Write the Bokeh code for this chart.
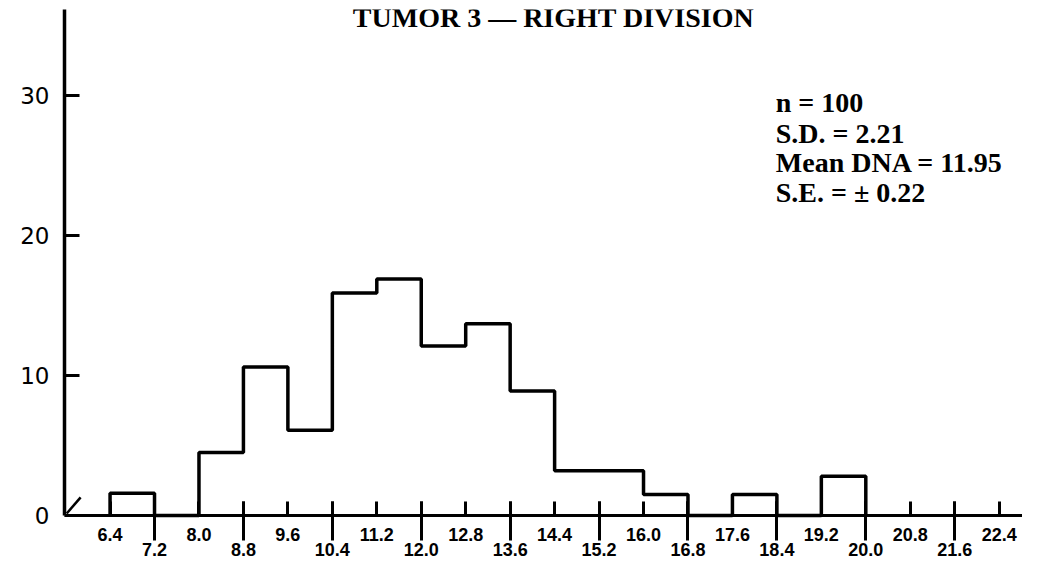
from bokeh.plotting import figure
from bokeh.models import FixedTicker, LinearAxis, Range1d, Label, ColumnDataSource
from bokeh.embed import file_html
from bokeh.resources import INLINE

# ---- data ----
title_text = "TUMOR 3 — RIGHT DIVISION"
bin_left = [6.4, 7.2, 8.0, 8.8, 9.6, 10.4, 11.2, 12.0, 12.8, 13.6,
            14.4, 15.2, 16.0, 16.8, 17.6, 18.4, 19.2]
counts = [1.6, 0, 4.5, 10.6, 6.1, 15.9, 16.9, 12.1, 13.7, 8.9,
          3.2, 3.2, 1.5, 0, 1.5, 0, 2.8]
bin_width = 0.8
upper_labels = ["6.4", "8.0", "9.6", "11.2", "12.8", "14.4", "16.0",
                "17.6", "19.2", "20.8", "22.4"]
lower_labels = ["7.2", "8.8", "10.4", "12.0", "13.6", "15.2", "16.8",
                "18.4", "20.0", "21.6"]
y_ticks = [0, 10, 20, 30]
stats_lines = ["n = 100", "S.D. = 2.21", "Mean DNA = 11.95", "S.E. = ± 0.22"]

# ---- figure ----
x_start, x_end = 5.58, 22.82
y_start, y_end = -3.21, 36.14

p = figure(width=1022, height=560,
           x_range=Range1d(x_start, x_end), y_range=Range1d(y_start, y_end),
           output_backend="svg", toolbar_location=None,
           x_axis_location=None, y_axis_location="left",
           min_border_left=64, min_border_right=0,
           min_border_top=9, min_border_bottom=0)
p.outline_line_color = None
p.grid.visible = False
p.background_fill_color = "white"
p.border_fill_color = "white"

# y axis (line only from 0 upward)
yax = p.yaxis[0]
yax.ticker = FixedTicker(ticks=y_ticks)
yax.bounds = (0, y_end)
yax.axis_line_width = 3.5
yax.axis_line_color = "black"
yax.major_tick_in = 15
yax.major_tick_out = 0
yax.major_tick_line_width = 3
yax.major_tick_line_color = "black"
yax.minor_tick_line_color = None
yax.major_label_text_font = "DejaVu Sans"
yax.major_label_text_font_size = "23px"
yax.major_label_text_color = "black"
yax.major_label_standoff = 15

# histogram outline (step)
xs = [bin_left[0]] + bin_left + [bin_left[-1] + bin_width]
ys = [0] + counts + [0]
src = ColumnDataSource(dict(x=xs, y=ys))
p.step("x", "y", source=src, mode="after", line_color="black", line_width=3.5)

# x axis at y = 0: lower row of labels with long ticks
all_vals = sorted([float(v) for v in upper_labels + lower_labels])
axA = LinearAxis(fixed_location=0,
                 ticker=FixedTicker(ticks=[float(v) for v in lower_labels],
                                    minor_ticks=all_vals))
axA.major_label_overrides = {float(v): v for v in lower_labels}
axA.axis_line_width = 3
axA.axis_line_color = "black"
axA.major_tick_in = 14
axA.major_tick_out = 25
axA.major_tick_line_width = 3
axA.minor_tick_in = 14
axA.minor_tick_out = 0
axA.minor_tick_line_width = 3
axA.major_label_text_font = "Liberation Sans"
axA.major_label_text_font_style = "bold"
axA.major_label_text_font_size = "18px"
axA.major_label_text_color = "black"
axA.major_label_standoff = 2
p.add_layout(axA, "below")

# x axis at y = 0: upper row of labels
axB = LinearAxis(fixed_location=0,
                 ticker=FixedTicker(ticks=[float(v) for v in upper_labels]))
axB.major_label_overrides = {float(v): v for v in upper_labels}
axB.axis_line_color = None
axB.major_tick_line_color = None
axB.minor_tick_line_color = None
axB.major_tick_in = 0
axB.major_tick_out = 0
axB.major_label_text_font = "Liberation Sans"
axB.major_label_text_font_style = "bold"
axB.major_label_text_font_size = "18px"
axB.major_label_text_color = "black"
axB.major_label_standoff = 12
p.add_layout(axB, "below")

# axis-break mark near origin
p.segment(x0=[x_start + 0.04], y0=[0.15], x1=[x_start + 0.29], y1=[1.3],
          line_color="black", line_width=2.5)

# title (top, centred over the plot)
p.add_layout(Label(x=14.38, y=y_end, text=title_text, text_align="center",
                   text_baseline="top", y_offset=8,
                   text_font="Liberation Serif", text_font_style="bold",
                   text_font_size="28px", text_color="black"))

# statistics block
stat_y = [29.5, 27.3, 25.2, 23.1]
for s, yy in zip(stats_lines, stat_y):
    p.add_layout(Label(x=18.38, y=yy, text=s, text_align="left",
                       text_baseline="middle",
                       text_font="Liberation Serif", text_font_style="bold",
                       text_font_size="28px", text_color="black"))

open("out.html", "w").write(file_html(p, INLINE))
